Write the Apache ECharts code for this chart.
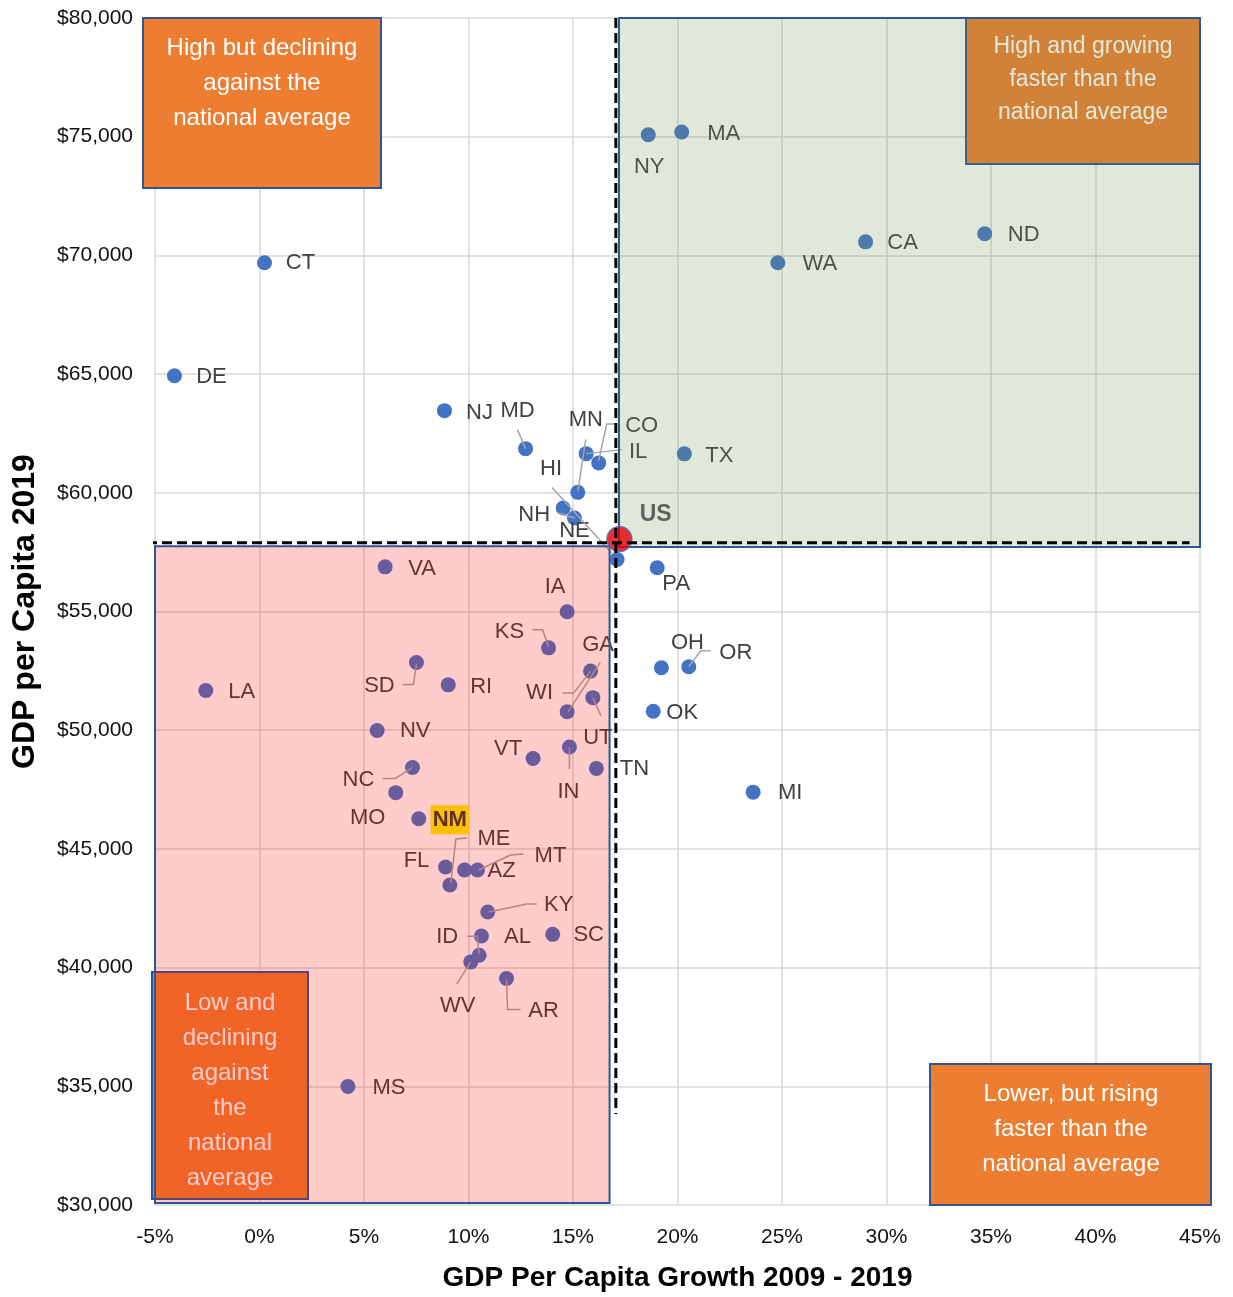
<!DOCTYPE html>
<html>
<head>
<meta charset="utf-8">
<script src="https://cdn.jsdelivr.net/npm/echarts@6/dist/echarts.min.js"></script>
<style>html,body{margin:0;padding:0;background:#fff}#c{width:1233px;height:1297px}</style>
</head>
<body>
<div id="c"></div>
<script>
// ---- data ----
const states = ['NY','MA','ND','CA','WA','CT','DE','NJ','MD','CO','IL','MN','NH','NE','HI','TX','PA','IA','KS','WI','GA','UT','IN','VT','TN','OH','OR','OK','MI','VA','LA','SD','RI','NV','NC','MO','NM','FL','AZ','MT','ME','KY','SC','AL','ID','WV','AR','MS'];
const growth = [18.6,20.2,34.7,29.0,24.8,0.24,-4.07,8.85,12.73,16.23,15.63,15.23,14.53,15.07,17.11,20.33,19.03,14.72,13.83,15.84,14.72,15.95,14.83,13.09,16.12,19.23,20.54,18.84,23.62,6.01,-2.57,7.51,9.03,5.63,7.32,6.52,7.62,8.90,9.81,10.43,9.11,10.92,14.03,10.62,10.51,10.11,11.82,4.23];
const gdp2019 = [75080,75200,70910,70570,69690,69690,64930,63460,61860,61260,61650,60020,59360,58940,57190,61640,56840,54990,53470,52490,50780,51370,49290,48810,48390,52630,52670,50800,47390,56880,51670,52850,51910,49990,48430,47370,46270,44240,44110,44110,43480,42340,41400,41330,40520,40240,39540,34990];
const usName = 'US';
const usGrowth = 17.22;
const usGdp = 58050;
const avgGrowthLine = 17.05;   // vertical dashed reference
const avgGdpLine = 57900;      // horizontal dashed reference
const highlighted = 'NM';
const xTicks = {min: -5, max: 45, step: 5};
const yTicks = {min: 30000, max: 80000, step: 5000};
const xTitle = 'GDP Per Capita Growth 2009 - 2019';
const yTitle = 'GDP per Capita 2019';
const boxTexts = [
  'High but declining\nagainst the\nnational average',
  'High and growing\nfaster than the\nnational average',
  'Low and\ndeclining\nagainst\nthe\nnational\naverage',
  'Lower, but rising\nfaster than the\nnational average'
];

// ---- label layout (pixel offsets relative to point; leader polyline relative to point) ----
const L = {
  NY:{d:[1,32]}, MA:{d:[42,2]}, ND:{d:[39,1]}, CA:{d:[37,1]}, WA:{d:[42,1]},
  CT:{d:[36,0]}, DE:{d:[37,1]}, NJ:{d:[35,2]},
  MD:{d:[-8,-38], l:[[-8,-19],[0,0]]},
  MN:{d:[8,-72], l:[[8,-53],[0,-1]]},
  CO:{d:[43,-37], l:[[17,-39],[8,-39],[0,-2]]},
  IL:{d:[52,-2], l:[[36,-4],[0,0]]},
  HI:{d:[-66,-91], l:[[-65,-72],[-5,-6]]},
  NH:{d:[-29,7]},
  NE:{d:[0,13], l:[[-16,-5],[0,0]]},
  TX:{d:[35,2]}, PA:{d:[19,16]}, IA:{d:[-12,-25]},
  KS:{d:[-39,-16], l:[[-16,-18],[-6,-18],[0,-1]]},
  WI:{d:[-51,22], l:[[-28,22],[-17,22],[0,0]]},
  GA:{d:[31,-67], l:[[33,-49],[1,0]]},
  UT:{d:[5,40], l:[[8,18],[0,0]]},
  OH:{d:[26,-25]},
  OR:{d:[47,-14], l:[[22,-16],[12,-16],[0,0]]},
  OK:{d:[29,2]}, VT:{d:[-25,-10]},
  IN:{d:[-1,45], l:[[0,22],[0,0]]},
  TN:{d:[38,1]}, MI:{d:[37,1]}, VA:{d:[37,2]}, LA:{d:[36,1]},
  SD:{d:[-37,23], l:[[-14,22],[-3,22],[0,1]]},
  RI:{d:[33,2]}, NV:{d:[38,1]},
  NC:{d:[-54,12], l:[[-30,11],[-17,11],[0,0]]},
  MO:{d:[-28,25]},
  NM:{d:[31,1]},
  FL:{d:[-29,-6]},
  AZ:{d:[37,1]},
  MT:{d:[73,-14], l:[[46,-16],[33,-15],[1,0]]},
  ME:{d:[44,-46], l:[[17,-47],[6,-46],[1,-2]]},
  KY:{d:[71,-7], l:[[49,-8],[39,-8],[1,0]]},
  SC:{d:[36,1]}, AL:{d:[36,1]},
  ID:{d:[-32,-18], l:[[-12,-19],[-2,-19],[0,-1]]},
  WV:{d:[-13,44], l:[[-14,22],[0,0]]},
  AR:{d:[37,32], l:[[0,1],[1,31],[14,31]]},
  MS:{d:[41,1]}
};

const FONT = '"Liberation Sans", Arial, sans-serif';
const pts = states.map((s,i)=>[growth[i], gdp2019[i], i]);
const ptsNormal = pts.filter(p => states[p[2]] !== highlighted);
const ptsHi = pts.filter(p => states[p[2]] === highlighted);

const chart = echarts.init(document.getElementById('c'), null, {renderer:'canvas'});

function fmtMoney(v){ return '$' + v.toLocaleString('en-US'); }

function makeLabelRenderer(hl){
  return function(params, api){
    const i = api.value(2);
    const name = states[i];
    const p = api.coord([api.value(0), api.value(1)]);
    const lay = L[name] || {d:[35,0]};
    const children = [];
    if (lay.l) {
      children.push({type:'polyline', shape:{points: lay.l.map(q=>[p[0]+q[0], p[1]+q[1]])},
        style:{stroke:'#A6A6A6', lineWidth:1.5, fill:null}});
    }
    const st = {text:name, x:p[0]+lay.d[0], y:p[1]+lay.d[1], align:'center', verticalAlign:'middle',
      fill:'#404040', font:'22px ' + FONT};
    if (hl) {
      st.font = 'bold 22px ' + FONT;
      st.fill = '#5E3030';
      st.backgroundColor = '#FFC000';
      st.padding = [4,2,3,2];
    }
    children.push({type:'text', style:st});
    return {type:'group', children};
  };
}

const option = {
  animation: false,
  backgroundColor: '#ffffff',
  grid: {left:155, right:33, top:18, bottom:91, containLabel:false},
  xAxis: {
    type:'value', min:xTicks.min, max:xTicks.max, interval:xTicks.step,
    axisLine:{show:false}, axisTick:{show:false},
    splitLine:{show:true, lineStyle:{color:'#D9D9D9', width:1.5}},
    axisLabel:{formatter:'{value}%', color:'#111', fontSize:21, fontFamily:FONT, margin:22},
    name: xTitle, nameLocation:'middle', nameGap:59,
    nameTextStyle:{fontSize:28, fontWeight:'bold', color:'#000', fontFamily:FONT}
  },
  yAxis: {
    type:'value', min:yTicks.min, max:yTicks.max, interval:yTicks.step,
    axisLine:{show:false}, axisTick:{show:false},
    splitLine:{show:true, lineStyle:{color:'#D9D9D9', width:1.5}},
    axisLabel:{formatter:fmtMoney, color:'#111', fontSize:21, fontFamily:FONT, margin:22},
    name: yTitle, nameLocation:'middle', nameGap:114,
    nameTextStyle:{fontSize:32, fontWeight:'bold', color:'#000', fontFamily:FONT}
  },
  series: [
    {
      type:'scatter', z:2, data: pts, symbolSize:15,
      itemStyle:{color:'#4472C4', opacity:1}
    },
    {
      type:'custom', z:3, data: ptsNormal, clip:false,
      encode:{x:0, y:1},
      renderItem: makeLabelRenderer(false)
    },
    {
      type:'line', z:4, data:[], silent:true,
      markArea:{
        silent:true, z:4,
        data:[
          [{coord:[17.2, 57720], itemStyle:{color:'rgba(112,148,80,0.22)', borderColor:'#2F5597', borderWidth:2}},
           {coord:[45, 80000]}],
          [{coord:[-5.15, 30080], itemStyle:{color:'rgba(255,0,0,0.2)', borderColor:'#2F5597', borderWidth:2}},
           {coord:[16.75, 57750]}]
        ]
      }
    },
    {
      type:'custom', z:5, data: ptsHi, clip:false,
      encode:{x:0, y:1},
      renderItem: makeLabelRenderer(true)
    },
    {
      type:'scatter', z:6, data:[[usGrowth, usGdp]], symbolSize:25,
      itemStyle:{color:'#E00000', borderColor:'#4472C4', borderWidth:1.5},
      label:{show:true, formatter:usName, position:'right', offset:[2,-24],
        fontSize:23, fontWeight:'bold', color:'#404040', fontFamily:FONT},
      labelLine:{show:false}
    },
    {
      type:'line', z:7, clip:false, symbol:'none', silent:true,
      data:[[-6.1, avgGdpLine],[44.5, avgGdpLine]],
      lineStyle:{color:'#000', width:3, type:[10,5]}
    },
    {
      type:'line', z:7, clip:false, symbol:'none', silent:true,
      data:[[avgGrowthLine, 80000],[avgGrowthLine, 33830]],
      lineStyle:{color:'#000', width:3, type:[10,5]}
    }
  ],
  graphic: [
    {type:'rect', z:1, shape:{x:143, y:18, width:238, height:170},
      style:{fill:'#ED7D31', stroke:'#2F5597', lineWidth:2}},
    {type:'text', z:1, x:262, y:31, style:{text:boxTexts[0], align:'center', verticalAlign:'top',
      fill:'#ffffff', font:'24px ' + FONT, lineHeight:35}},
    {type:'rect', z:1, shape:{x:966, y:18, width:234, height:146},
      style:{fill:'#ED7D31', stroke:'#2F5597', lineWidth:2}},
    {type:'text', z:1, x:1083, y:30, style:{text:boxTexts[1], align:'center', verticalAlign:'top',
      fill:'#ffffff', font:'23px ' + FONT, lineHeight:33}},
    {type:'rect', z:1, shape:{x:152, y:972, width:156, height:227},
      style:{fill:'#ED7D31', stroke:'#2F5597', lineWidth:2}},
    {type:'text', z:1, x:230, y:986, style:{text:boxTexts[2], align:'center', verticalAlign:'top',
      fill:'#ffffff', font:'24px ' + FONT, lineHeight:35}},
    {type:'rect', z:1, shape:{x:930, y:1064, width:281, height:141},
      style:{fill:'#ED7D31', stroke:'#2F5597', lineWidth:2}},
    {type:'text', z:1, x:1071, y:1077, style:{text:boxTexts[3], align:'center', verticalAlign:'top',
      fill:'#ffffff', font:'24px ' + FONT, lineHeight:35}}
  ]
};
chart.setOption(option);
</script>
</body>
</html>
